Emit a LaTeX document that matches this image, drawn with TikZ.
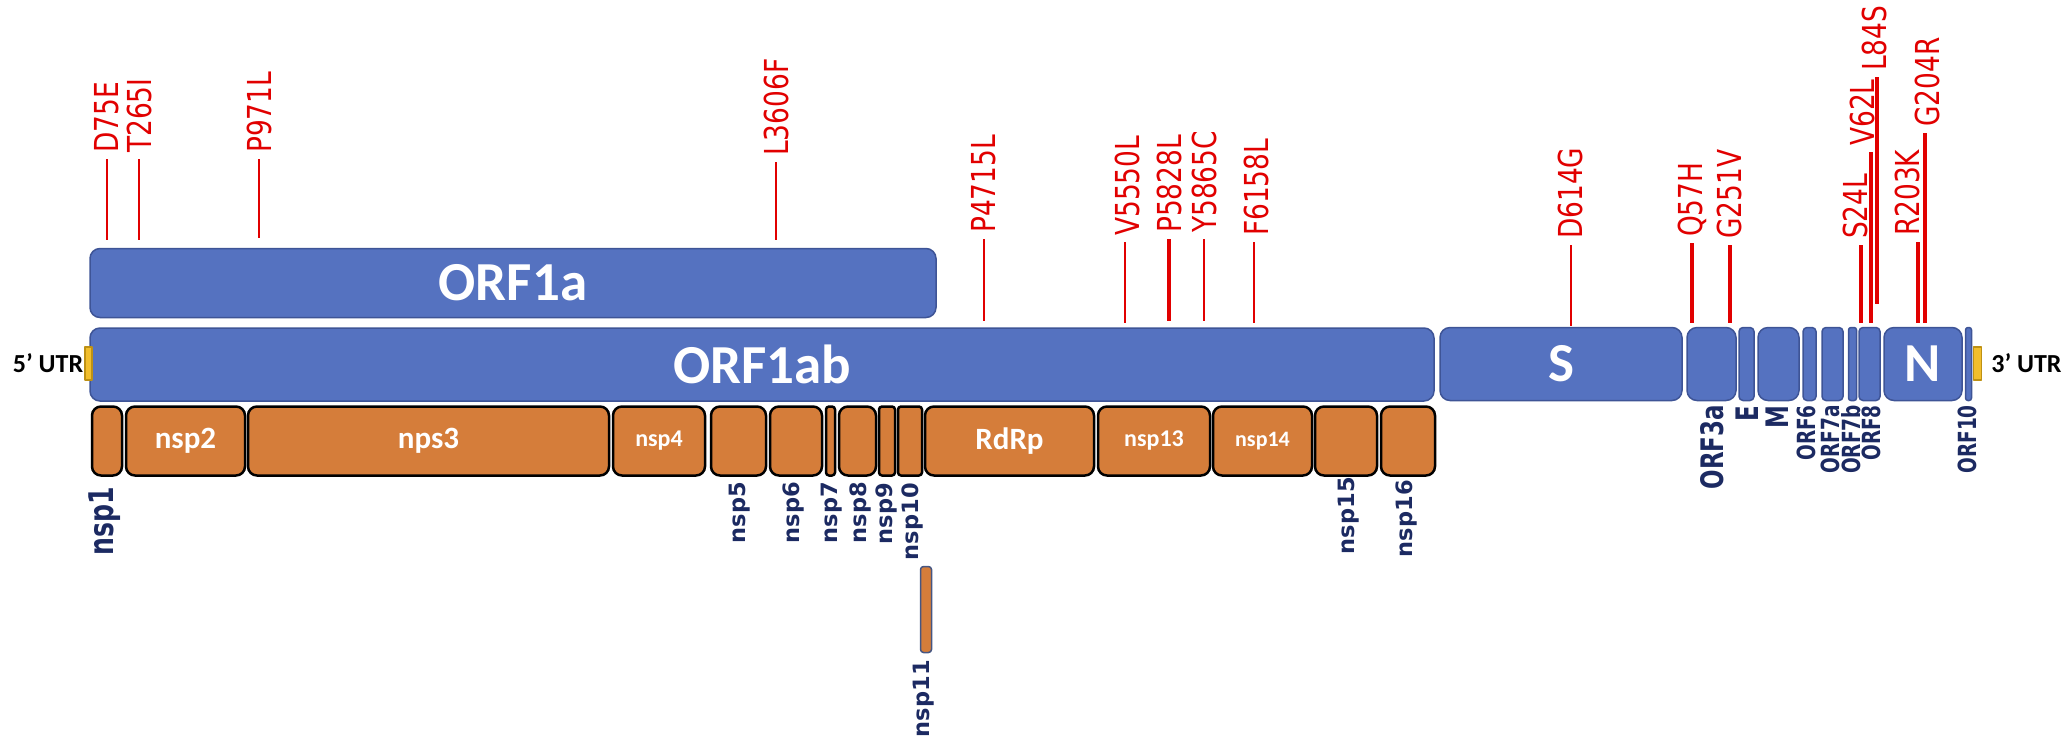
\documentclass[tikz,border=0pt]{standalone}
\usepackage{fontspec}
\setmainfont{Carlito}
\newfontfamily\mutfont[FakeStretch=0.8]{DejaVu Sans}
\newfontfamily\orffont[FakeStretch=0.74]{DejaVu Sans}
\newfontfamily\nspfont{DejaVu Sans}
\usetikzlibrary{positioning}
\definecolor{orfblue}{RGB}{85,114,192}
\definecolor{orfedge}{RGB}{62,84,150}
\definecolor{nsporange}{RGB}{213,125,58}
\definecolor{nspedge}{RGB}{70,86,130}
\definecolor{utrgold}{RGB}{241,190,45}
\definecolor{utredge}{RGB}{190,145,20}
\definecolor{mutred}{RGB}{225,0,0}
\definecolor{lblnavy}{RGB}{28,42,98}
\tikzset{
  every picture/.style={line join=round},
  orf/.style={draw=orfedge, fill=orfblue, line width=1.5pt, rounded corners=10pt,
              inner sep=0pt, minimum height=73pt, text=white,
              font=\bfseries\fontsize{55}{55}\selectfont},
  orfthin/.style={orf, rounded corners=4pt},
  nsp/.style={draw=black, fill=nsporange, line width=2.5pt, rounded corners=9pt,
              inner sep=0pt, minimum height=69pt, text=white,
              font=\bfseries\fontsize{31}{31}\selectfont},
  nspthin/.style={nsp, rounded corners=3pt},
  nspsmall/.style={font=\bfseries\fontsize{24}{24}\selectfont},
  utr/.style={draw=utredge, fill=utrgold, line width=1.2pt, inner sep=0pt,
              minimum width=7pt, minimum height=33pt},
  utrtext/.style={inner sep=0pt, font=\bfseries\fontsize{26}{26}\selectfont},
  mut/.style={rotate=90, anchor=west, inner xsep=6pt, inner ysep=0pt, text=mutred,
              font=\mutfont\fontsize{33}{33}\selectfont},
  mutline/.style={draw=mutred, line width=2pt},
  mutthick/.style={draw=mutred, line width=4.5pt},
  plabel/.style={rotate=90, anchor=east, inner sep=0pt, text=lblnavy,
                 font=\nspfont\bfseries\fontsize{22.5}{22.5}\selectfont},
  olabel/.style={plabel, font=\orffont\bfseries\fontsize{25}{25}\selectfont},
  Olabel/.style={plabel, font=\orffont\bfseries\fontsize{31}{31}\selectfont},
}

\begin{document}
\begin{tikzpicture}[x=1pt, y=-1pt]
  \useasboundingbox (0,0) rectangle (2069,740);
  % open reading frames
  \node[orf, minimum width=846pt, minimum height=69pt] (ORF1a) at (513,283) {ORF1a};
  \node[orf, minimum width=1344pt] (ORF1ab) at (762,364.5) {ORF1ab};
  \node[orf, minimum width=242pt] (S) at (1561,364) {S};
  \node[orf, minimum width=49pt] (ORF3a) at (1711.5,364) {};
  \node[orfthin, minimum width=15pt] (E) at (1746.5,364) {};
  \node[orf, minimum width=41pt] (M) at (1778.5,364) {};
  \node[orfthin, minimum width=13pt] (ORF6) at (1809.5,364) {};
  \node[orfthin, minimum width=21pt] (ORF7a) at (1832.5,364) {};
  \node[orfthin, rounded corners=2.5pt, minimum width=8pt] (ORF7b) at (1852.5,364) {};
  \node[orfthin, minimum width=21pt] (ORF8) at (1869.5,364) {};
  \node[orf, minimum width=78pt] (N) at (1923,364) {N};
  \node[orfthin, rounded corners=2.5pt, minimum width=6pt] (ORF10) at (1968.5,364) {};
  % untranslated regions
  \node[utr] (utr5) at (88.5,363.5) {};
  \node[utr, minimum width=8pt] (utr3) at (1977.5,363.5) {};
  \node[utrtext, left=1pt of utr5] (utr5txt) {5’ UTR};
  \node[utrtext, right=9pt of utr3] (utr3txt) {3’ UTR};
  % non-structural proteins
  \node[nsp, minimum width=30pt] (nsp1) at (107,441) {};
  \node[nsp, minimum width=119pt] (nsp2) at (185.5,441) {nsp2};
  \node[nsp, minimum width=361pt] (nsp3) at (428.5,441) {nps3};
  \node[nsp, nspsmall, minimum width=92pt] (nsp4) at (659,441) {nsp4};
  \node[nsp, minimum width=55pt] (nsp5) at (738.5,441) {};
  \node[nsp, minimum width=52pt] (nsp6) at (796,441) {};
  \node[nspthin, minimum width=9pt] (nsp7) at (830.5,441) {};
  \node[nsp, minimum width=37pt] (nsp8) at (857.5,441) {};
  \node[nspthin, minimum width=16pt] (nsp9) at (887,441) {};
  \node[nspthin, minimum width=24pt] (nsp10) at (910,441) {};
  \node[nsp, minimum width=169pt] (RdRp) at (1009.5,441) {RdRp};
  \node[nsp, nspsmall, minimum width=112pt] (nsp13) at (1154,441) {nsp13};
  \node[nsp, nspsmall, font=\bfseries\fontsize{22}{22}\selectfont,
        minimum width=99pt] (nsp14) at (1262.5,441) {nsp14};
  \node[nsp, minimum width=62pt] (nsp15) at (1346,441) {};
  \node[nsp, minimum width=54pt] (nsp16) at (1408,441) {};
  \node[nspthin, draw=nspedge, line width=1.5pt, minimum width=11pt,
        minimum height=86pt] (nsp11) at (926,609.5) {};
  % protein names
  \node[Olabel, font=\orffont\bfseries\fontsize{34}{34}\selectfont] (lnsp1) at (105,487) {nsp1};
  \node[plabel] (lnsp5) at (740,482) {nsp5};
  \node[plabel] (lnsp6) at (793,482) {nsp6};
  \node[plabel] (lnsp7) at (832,482) {nsp7};
  \node[plabel] (lnsp8) at (860,482) {nsp8};
  \node[plabel] (lnsp9) at (886,483) {nsp9};
  \node[plabel] (lnsp10) at (912,483) {nsp10};
  \node[plabel] (lnsp11) at (924,660) {nsp11};
  \node[plabel] (lnsp15) at (1349,477) {nsp15};
  \node[plabel] (lnsp16) at (1406,480) {nsp16};
  \node[Olabel] (lORF3a) at (1712,405) {ORF3a};
  \node[Olabel] (lE) at (1747,406) {E};
  \node[Olabel] (lM) at (1777,405) {M};
  \node[olabel] (lORF6) at (1806,405) {ORF6};
  \node[olabel] (lORF7a) at (1830,405) {ORF7a};
  \node[olabel] (lORF7b) at (1851,405) {ORF7b};
  \node[olabel] (lORF8) at (1871,405) {ORF8};
  \node[olabel] (lORF10) at (1967,405) {ORF10};
  % mutations
  \node[mut] (mD75E) at (107,159) {D75E};
  \coordinate (bD75E) at (107,240);
  \draw[mutline] (bD75E |- mD75E.west) -- (bD75E);
  \node[mut] (mT265I) at (139,159) {T265I};
  \coordinate (bT265I) at (139,240);
  \draw[mutline] (bT265I |- mT265I.west) -- (bT265I);
  \node[mut] (mP971L) at (259,159) {P971L};
  \coordinate (bP971L) at (259,238);
  \draw[mutline] (bP971L |- mP971L.west) -- (bP971L);
  \node[mut] (mL3606F) at (776,162) {L3606F};
  \coordinate (bL3606F) at (776,240);
  \draw[mutline] (bL3606F |- mL3606F.west) -- (bL3606F);
  \node[mut] (mP4715L) at (984,239) {P4715L};
  \coordinate (bP4715L) at (984,321);
  \draw[mutline] (bP4715L |- mP4715L.west) -- (bP4715L);
  \node[mut] (mV5550L) at (1127,242) {V5550L};
  \coordinate (bV5550L) at (1125,323);
  \draw[mutline] (bV5550L |- mV5550L.west) -- (bV5550L);
  \node[mut] (mP5828L) at (1169,239) {P5828L};
  \coordinate (bP5828L) at (1169,321);
  \draw[mutthick] (bP5828L |- mP5828L.west) -- (bP5828L);
  \node[mut] (mY5865C) at (1204,239) {Y5865C};
  \coordinate (bY5865C) at (1204,321);
  \draw[mutline] (bY5865C |- mY5865C.west) -- (bY5865C);
  \node[mut] (mF6158L) at (1256,242) {F6158L};
  \coordinate (bF6158L) at (1254,323);
  \draw[mutline] (bF6158L |- mF6158L.west) -- (bF6158L);
  \node[mut] (mD614G) at (1570,245) {D614G};
  \coordinate (bD614G) at (1571,326);
  \draw[mutline] (bD614G |- mD614G.west) -- (bD614G);
  \node[mut] (mQ57H) at (1692,243) {Q57H};
  \coordinate (bQ57H) at (1692,323);
  \draw[mutthick] (bQ57H |- mQ57H.west) -- (bQ57H);
  \node[mut] (mG251V) at (1729,245) {G251V};
  \coordinate (bG251V) at (1730,323);
  \draw[mutthick] (bG251V |- mG251V.west) -- (bG251V);
  \node[mut] (mS24L) at (1855,245) {S24L};
  \coordinate (bS24L) at (1861,323);
  \draw[mutthick] (bS24L |- mS24L.west) -- (bS24L);
  \node[mut] (mV62L) at (1862,152) {V62L};
  \coordinate (bV62L) at (1871,323);
  \draw[mutthick] (bV62L |- mV62L.west) -- (bV62L);
  \node[mut] (mL84S) at (1874,77) {L84S};
  \coordinate (bL84S) at (1877,304);
  \draw[mutthick] (bL84S |- mL84S.west) -- (bL84S);
  \node[mut] (mR203K) at (1907,242) {R203K};
  \coordinate (bR203K) at (1918,323);
  \draw[mutthick] (bR203K |- mR203K.west) -- (bR203K);
  \node[mut] (mG204R) at (1927,133) {G204R};
  \coordinate (bG204R) at (1925,323);
  \draw[mutthick] (bG204R |- mG204R.west) -- (bG204R);
\end{tikzpicture}
\end{document}
